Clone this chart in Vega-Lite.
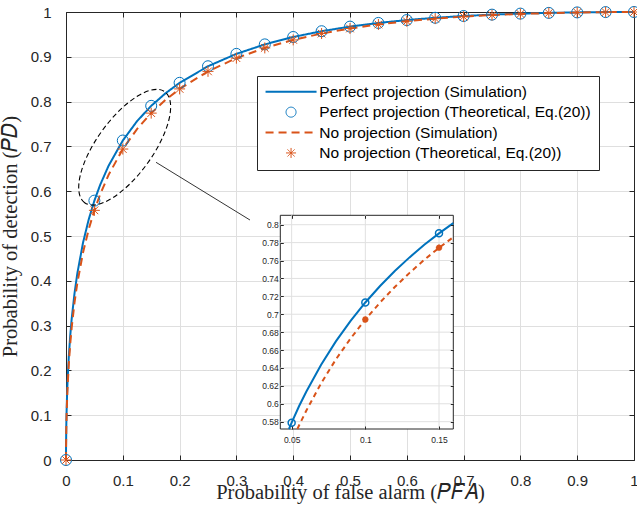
{
  "$schema": "https://vega.github.io/schema/vega-lite/v6.json",
  "width": 568,
  "height": 448,
  "autosize": {"type": "none"},
  "padding": {"left": 66, "top": 12, "right": 3, "bottom": 54},
  "background": "white",
  "config": {
    "view": {"stroke": null},
    "axis": {
      "labelFont": "Liberation Sans", "labelFontSize": 15, "labelColor": "#262626",
      "titleFont": "Liberation Serif", "titleFontSize": 20.5, "titleColor": "#262626", "titleFontWeight": "normal",
      "domainColor": "#262626", "tickColor": "#262626", "gridColor": "#dfdfdf", "gridOpacity": 1,
      "domainWidth": 1, "tickWidth": 1, "labelFlush": false, "labelOverlap": false
    },
    "legend": {
      "padding": 8, "fillColor": "white", "strokeColor": "#262626",
      "symbolSize": 100, "symbolOffset": 18.3, "labelOffset": 20.5,
      "labelFont": "Liberation Sans", "labelFontSize": 15.5, "labelColor": "black",
      "rowPadding": 3.4, "labelLimit": 400, "symbolFillColor": "transparent", "cornerRadius": 0
    }
  },
  "datasets": {
    "sim": [
      {"pfa": 0, "pd": 0, "series": "Perfect projection (Simulation)"},
      {"pfa": 0.0001, "pd": 0.0304, "series": "Perfect projection (Simulation)"},
      {"pfa": 0.0005, "pd": 0.074, "series": "Perfect projection (Simulation)"},
      {"pfa": 0.001, "pd": 0.1064, "series": "Perfect projection (Simulation)"},
      {"pfa": 0.002, "pd": 0.1506, "series": "Perfect projection (Simulation)"},
      {"pfa": 0.003, "pd": 0.183, "series": "Perfect projection (Simulation)"},
      {"pfa": 0.005, "pd": 0.2321, "series": "Perfect projection (Simulation)"},
      {"pfa": 0.0075, "pd": 0.2783, "series": "Perfect projection (Simulation)"},
      {"pfa": 0.01, "pd": 0.3149, "series": "Perfect projection (Simulation)"},
      {"pfa": 0.015, "pd": 0.3722, "series": "Perfect projection (Simulation)"},
      {"pfa": 0.02, "pd": 0.4168, "series": "Perfect projection (Simulation)"},
      {"pfa": 0.03, "pd": 0.4852, "series": "Perfect projection (Simulation)"},
      {"pfa": 0.04, "pd": 0.537, "series": "Perfect projection (Simulation)"},
      {"pfa": 0.05, "pd": 0.5789, "series": "Perfect projection (Simulation)"},
      {"pfa": 0.06, "pd": 0.6137, "series": "Perfect projection (Simulation)"},
      {"pfa": 0.075, "pd": 0.6569, "series": "Perfect projection (Simulation)"},
      {"pfa": 0.1, "pd": 0.7131, "series": "Perfect projection (Simulation)"},
      {"pfa": 0.125, "pd": 0.7562, "series": "Perfect projection (Simulation)"},
      {"pfa": 0.15, "pd": 0.7905, "series": "Perfect projection (Simulation)"},
      {"pfa": 0.175, "pd": 0.8183, "series": "Perfect projection (Simulation)"},
      {"pfa": 0.2, "pd": 0.8419, "series": "Perfect projection (Simulation)"},
      {"pfa": 0.25, "pd": 0.8789, "series": "Perfect projection (Simulation)"},
      {"pfa": 0.3, "pd": 0.9065, "series": "Perfect projection (Simulation)"},
      {"pfa": 0.35, "pd": 0.9277, "series": "Perfect projection (Simulation)"},
      {"pfa": 0.4, "pd": 0.9442, "series": "Perfect projection (Simulation)"},
      {"pfa": 0.45, "pd": 0.9571, "series": "Perfect projection (Simulation)"},
      {"pfa": 0.5, "pd": 0.9674, "series": "Perfect projection (Simulation)"},
      {"pfa": 0.55, "pd": 0.9756, "series": "Perfect projection (Simulation)"},
      {"pfa": 0.6, "pd": 0.982, "series": "Perfect projection (Simulation)"},
      {"pfa": 0.65, "pd": 0.9871, "series": "Perfect projection (Simulation)"},
      {"pfa": 0.7, "pd": 0.9911, "series": "Perfect projection (Simulation)"},
      {"pfa": 0.75, "pd": 0.9941, "series": "Perfect projection (Simulation)"},
      {"pfa": 0.8, "pd": 0.9964, "series": "Perfect projection (Simulation)"},
      {"pfa": 0.85, "pd": 0.998, "series": "Perfect projection (Simulation)"},
      {"pfa": 0.9, "pd": 0.9991, "series": "Perfect projection (Simulation)"},
      {"pfa": 0.95, "pd": 0.9998, "series": "Perfect projection (Simulation)"},
      {"pfa": 1, "pd": 1, "series": "Perfect projection (Simulation)"},
      {"pfa": 0, "pd": 0, "series": "No projection (Simulation)"},
      {"pfa": 0.0001, "pd": 0.0268, "series": "No projection (Simulation)"},
      {"pfa": 0.0005, "pd": 0.0665, "series": "No projection (Simulation)"},
      {"pfa": 0.001, "pd": 0.0966, "series": "No projection (Simulation)"},
      {"pfa": 0.002, "pd": 0.1381, "series": "No projection (Simulation)"},
      {"pfa": 0.003, "pd": 0.1688, "series": "No projection (Simulation)"},
      {"pfa": 0.005, "pd": 0.2157, "series": "No projection (Simulation)"},
      {"pfa": 0.0075, "pd": 0.2601, "series": "No projection (Simulation)"},
      {"pfa": 0.01, "pd": 0.2956, "series": "No projection (Simulation)"},
      {"pfa": 0.015, "pd": 0.3516, "series": "No projection (Simulation)"},
      {"pfa": 0.02, "pd": 0.3955, "series": "No projection (Simulation)"},
      {"pfa": 0.03, "pd": 0.4633, "series": "No projection (Simulation)"},
      {"pfa": 0.04, "pd": 0.5152, "series": "No projection (Simulation)"},
      {"pfa": 0.05, "pd": 0.5573, "series": "No projection (Simulation)"},
      {"pfa": 0.06, "pd": 0.5925, "series": "No projection (Simulation)"},
      {"pfa": 0.075, "pd": 0.6365, "series": "No projection (Simulation)"},
      {"pfa": 0.1, "pd": 0.6941, "series": "No projection (Simulation)"},
      {"pfa": 0.125, "pd": 0.7386, "series": "No projection (Simulation)"},
      {"pfa": 0.15, "pd": 0.7743, "series": "No projection (Simulation)"},
      {"pfa": 0.175, "pd": 0.8035, "series": "No projection (Simulation)"},
      {"pfa": 0.2, "pd": 0.8283, "series": "No projection (Simulation)"},
      {"pfa": 0.25, "pd": 0.8675, "series": "No projection (Simulation)"},
      {"pfa": 0.3, "pd": 0.897, "series": "No projection (Simulation)"},
      {"pfa": 0.35, "pd": 0.9198, "series": "No projection (Simulation)"},
      {"pfa": 0.4, "pd": 0.9377, "series": "No projection (Simulation)"},
      {"pfa": 0.45, "pd": 0.9519, "series": "No projection (Simulation)"},
      {"pfa": 0.5, "pd": 0.9632, "series": "No projection (Simulation)"},
      {"pfa": 0.55, "pd": 0.9722, "series": "No projection (Simulation)"},
      {"pfa": 0.6, "pd": 0.9794, "series": "No projection (Simulation)"},
      {"pfa": 0.65, "pd": 0.9852, "series": "No projection (Simulation)"},
      {"pfa": 0.7, "pd": 0.9897, "series": "No projection (Simulation)"},
      {"pfa": 0.75, "pd": 0.9931, "series": "No projection (Simulation)"},
      {"pfa": 0.8, "pd": 0.9957, "series": "No projection (Simulation)"},
      {"pfa": 0.85, "pd": 0.9976, "series": "No projection (Simulation)"},
      {"pfa": 0.9, "pd": 0.9989, "series": "No projection (Simulation)"},
      {"pfa": 0.95, "pd": 0.9997, "series": "No projection (Simulation)"},
      {"pfa": 1, "pd": 1, "series": "No projection (Simulation)"}
    ],
    "theo": [
      {"pfa": 0, "pd": 0, "series": "Perfect projection (Theoretical, Eq.(20))"},
      {"pfa": 0.05, "pd": 0.5789, "series": "Perfect projection (Theoretical, Eq.(20))"},
      {"pfa": 0.1, "pd": 0.7131, "series": "Perfect projection (Theoretical, Eq.(20))"},
      {"pfa": 0.15, "pd": 0.7905, "series": "Perfect projection (Theoretical, Eq.(20))"},
      {"pfa": 0.2, "pd": 0.8419, "series": "Perfect projection (Theoretical, Eq.(20))"},
      {"pfa": 0.25, "pd": 0.8789, "series": "Perfect projection (Theoretical, Eq.(20))"},
      {"pfa": 0.3, "pd": 0.9065, "series": "Perfect projection (Theoretical, Eq.(20))"},
      {"pfa": 0.35, "pd": 0.9277, "series": "Perfect projection (Theoretical, Eq.(20))"},
      {"pfa": 0.4, "pd": 0.9442, "series": "Perfect projection (Theoretical, Eq.(20))"},
      {"pfa": 0.45, "pd": 0.9571, "series": "Perfect projection (Theoretical, Eq.(20))"},
      {"pfa": 0.5, "pd": 0.9674, "series": "Perfect projection (Theoretical, Eq.(20))"},
      {"pfa": 0.55, "pd": 0.9756, "series": "Perfect projection (Theoretical, Eq.(20))"},
      {"pfa": 0.6, "pd": 0.982, "series": "Perfect projection (Theoretical, Eq.(20))"},
      {"pfa": 0.65, "pd": 0.9871, "series": "Perfect projection (Theoretical, Eq.(20))"},
      {"pfa": 0.7, "pd": 0.9911, "series": "Perfect projection (Theoretical, Eq.(20))"},
      {"pfa": 0.75, "pd": 0.9941, "series": "Perfect projection (Theoretical, Eq.(20))"},
      {"pfa": 0.8, "pd": 0.9964, "series": "Perfect projection (Theoretical, Eq.(20))"},
      {"pfa": 0.85, "pd": 0.998, "series": "Perfect projection (Theoretical, Eq.(20))"},
      {"pfa": 0.9, "pd": 0.9991, "series": "Perfect projection (Theoretical, Eq.(20))"},
      {"pfa": 0.95, "pd": 0.9998, "series": "Perfect projection (Theoretical, Eq.(20))"},
      {"pfa": 1, "pd": 1, "series": "Perfect projection (Theoretical, Eq.(20))"},
      {"pfa": 0, "pd": 0, "series": "No projection (Theoretical, Eq.(20))"},
      {"pfa": 0.05, "pd": 0.5573, "series": "No projection (Theoretical, Eq.(20))"},
      {"pfa": 0.1, "pd": 0.6941, "series": "No projection (Theoretical, Eq.(20))"},
      {"pfa": 0.15, "pd": 0.7743, "series": "No projection (Theoretical, Eq.(20))"},
      {"pfa": 0.2, "pd": 0.8283, "series": "No projection (Theoretical, Eq.(20))"},
      {"pfa": 0.25, "pd": 0.8675, "series": "No projection (Theoretical, Eq.(20))"},
      {"pfa": 0.3, "pd": 0.897, "series": "No projection (Theoretical, Eq.(20))"},
      {"pfa": 0.35, "pd": 0.9198, "series": "No projection (Theoretical, Eq.(20))"},
      {"pfa": 0.4, "pd": 0.9377, "series": "No projection (Theoretical, Eq.(20))"},
      {"pfa": 0.45, "pd": 0.9519, "series": "No projection (Theoretical, Eq.(20))"},
      {"pfa": 0.5, "pd": 0.9632, "series": "No projection (Theoretical, Eq.(20))"},
      {"pfa": 0.55, "pd": 0.9722, "series": "No projection (Theoretical, Eq.(20))"},
      {"pfa": 0.6, "pd": 0.9794, "series": "No projection (Theoretical, Eq.(20))"},
      {"pfa": 0.65, "pd": 0.9852, "series": "No projection (Theoretical, Eq.(20))"},
      {"pfa": 0.7, "pd": 0.9897, "series": "No projection (Theoretical, Eq.(20))"},
      {"pfa": 0.75, "pd": 0.9931, "series": "No projection (Theoretical, Eq.(20))"},
      {"pfa": 0.8, "pd": 0.9957, "series": "No projection (Theoretical, Eq.(20))"},
      {"pfa": 0.85, "pd": 0.9976, "series": "No projection (Theoretical, Eq.(20))"},
      {"pfa": 0.9, "pd": 0.9989, "series": "No projection (Theoretical, Eq.(20))"},
      {"pfa": 0.95, "pd": 0.9997, "series": "No projection (Theoretical, Eq.(20))"},
      {"pfa": 1, "pd": 1, "series": "No projection (Theoretical, Eq.(20))"}
    ],
    "inset_p": [
      {"pfa": 0.0482, "pd": 0.5718}, {"pfa": 0.05, "pd": 0.5789}, {"pfa": 0.055, "pd": 0.5972},
      {"pfa": 0.06, "pd": 0.6137}, {"pfa": 0.07, "pd": 0.6436}, {"pfa": 0.08, "pd": 0.6697},
      {"pfa": 0.09, "pd": 0.6925}, {"pfa": 0.1, "pd": 0.7131}, {"pfa": 0.11, "pd": 0.7315},
      {"pfa": 0.12, "pd": 0.7483}, {"pfa": 0.13, "pd": 0.7635}, {"pfa": 0.14, "pd": 0.7776},
      {"pfa": 0.15, "pd": 0.7903}, {"pfa": 0.1597, "pd": 0.8018}
    ],
    "inset_n": [
      {"pfa": 0.0539, "pd": 0.5718}, {"pfa": 0.055, "pd": 0.5757}, {"pfa": 0.06, "pd": 0.5925},
      {"pfa": 0.07, "pd": 0.6229}, {"pfa": 0.08, "pd": 0.6495}, {"pfa": 0.09, "pd": 0.6729},
      {"pfa": 0.1, "pd": 0.6941}, {"pfa": 0.11, "pd": 0.7131}, {"pfa": 0.12, "pd": 0.7304},
      {"pfa": 0.13, "pd": 0.7462}, {"pfa": 0.14, "pd": 0.7608}, {"pfa": 0.15, "pd": 0.7742},
      {"pfa": 0.1597, "pd": 0.7861}
    ],
    "inset_pt": [
      {"pfa": 0.05, "pd": 0.5789}, {"pfa": 0.1, "pd": 0.7131}, {"pfa": 0.15, "pd": 0.7905}
    ],
    "inset_nt": [
      {"pfa": 0.1, "pd": 0.6941}, {"pfa": 0.15, "pd": 0.7743}
    ],
    "inset_box": [
      {"x0": 0.0423, "x1": 0.1597, "y0": 0.5718, "y1": 0.8105}
    ],
    "inset_xgrid": [{"v": 0.05}, {"v": 0.1}, {"v": 0.15}],
    "inset_ygrid": [{"v": 0.58}, {"v": 0.6}, {"v": 0.62}, {"v": 0.64}, {"v": 0.66}, {"v": 0.68}, {"v": 0.7}, {"v": 0.72}, {"v": 0.74}, {"v": 0.76}, {"v": 0.78}, {"v": 0.8}]
  },
  "layer": [
    {
      "layer": [
        {
          "data": {"name": "sim"},
          "mark": {"type": "line"},
          "encoding": {
            "x": {"field": "pfa", "type": "quantitative",
              "scale": {"domain": [0, 1], "nice": false, "zero": false},
              "axis": {"orient": "bottom", "values": [0, 0.1, 0.2, 0.3, 0.4, 0.5, 0.6, 0.7, 0.8, 0.9, 1], "format": "~g",
                "grid": true, "tickSize": -5, "labelPadding": 18,
                "title": "Probability of false alarm (𝑃𝐹𝐴)", "titleX": 284, "titleY": 38.5, "titleBaseline": "alphabetic"}},
            "y": {"field": "pd", "type": "quantitative",
              "scale": {"domain": [0, 1], "nice": false, "zero": false},
              "axis": {"orient": "left", "values": [0, 0.1, 0.2, 0.3, 0.4, 0.5, 0.6, 0.7, 0.8, 0.9, 1], "format": "~g",
                "grid": true, "tickSize": -5, "labelPadding": 20,
                "title": "Probability of detection (𝑃𝐷)", "titleX": -50, "titleY": 224, "titleAngle": 270, "titleBaseline": "alphabetic"}},
            "color": {"field": "series", "type": "nominal",
              "scale": {"domain": ["Perfect projection (Simulation)", "Perfect projection (Theoretical, Eq.(20))", "No projection (Simulation)", "No projection (Theoretical, Eq.(20))"],
                "range": ["#0072BD", "#0072BD", "#D95319", "#D95319"]},
              "legend": {"title": null, "orient": "none", "legendX": 191, "legendY": 64}},
            "strokeDash": {"field": "series", "type": "nominal",
              "scale": {"domain": ["Perfect projection (Simulation)", "Perfect projection (Theoretical, Eq.(20))", "No projection (Simulation)", "No projection (Theoretical, Eq.(20))"],
                "range": [[1, 0], [1, 0], [8, 5], [1, 0]]},
              "legend": {"title": null, "orient": "none", "legendX": 191, "legendY": 64}},
            "strokeWidth": {"field": "series", "type": "nominal",
              "scale": {"type": "ordinal", "domain": ["Perfect projection (Simulation)", "Perfect projection (Theoretical, Eq.(20))", "No projection (Simulation)", "No projection (Theoretical, Eq.(20))"],
                "range": [2, 1, 2, 1]},
              "legend": {"title": null, "orient": "none", "legendX": 191, "legendY": 64}}
          }
        },
        {
          "data": {"name": "theo"},
          "mark": {"type": "point", "filled": false, "opacity": 1, "size": 121},
          "encoding": {
            "x": {"field": "pfa", "type": "quantitative", "axis": null},
            "y": {"field": "pd", "type": "quantitative", "axis": null},
            "color": {"field": "series", "type": "nominal",
              "scale": {"domain": ["Perfect projection (Simulation)", "Perfect projection (Theoretical, Eq.(20))", "No projection (Simulation)", "No projection (Theoretical, Eq.(20))"],
                "range": ["#0072BD", "#0072BD", "#D95319", "#D95319"]},
              "legend": {"title": null, "orient": "none", "legendX": 191, "legendY": 64}},
            "shape": {"field": "series", "type": "nominal",
              "scale": {"domain": ["Perfect projection (Simulation)", "Perfect projection (Theoretical, Eq.(20))", "No projection (Simulation)", "No projection (Theoretical, Eq.(20))"],
                "range": ["M-5.1,0L5.1,0", "circle", "M-5.1,0L5.1,0", "M-1,0L1,0M0,-1L0,1M-0.7,-0.7L0.7,0.7M-0.7,0.7L0.7,-0.7"]},
              "legend": {"title": null, "orient": "none", "legendX": 191, "legendY": 64}},
            "strokeWidth": {"field": "series", "type": "nominal",
              "scale": {"type": "ordinal", "domain": ["Perfect projection (Simulation)", "Perfect projection (Theoretical, Eq.(20))", "No projection (Simulation)", "No projection (Theoretical, Eq.(20))"],
                "range": [2, 1, 2, 1]},
              "legend": {"title": null, "orient": "none", "legendX": 191, "legendY": 64}}
          }
        },
        {
          "data": {"values": [{"cx": 0.1033, "cy": 0.6982}]},
          "mark": {"type": "point", "shape": "M-1,0C-1,-0.2253,-0.5523,-0.408,0,-0.408C0.5523,-0.408,1,-0.2253,1,0C1,0.2253,0.5523,0.408,0,0.408C-0.5523,0.408,-1,0.2253,-1,0Z",
            "size": 18714, "angle": 305.8, "filled": false, "stroke": "black", "strokeWidth": 1.1, "strokeDash": [5, 3], "opacity": 1},
          "encoding": {
            "x": {"field": "cx", "type": "quantitative", "axis": null},
            "y": {"field": "cy", "type": "quantitative", "axis": null}
          }
        },
        {
          "data": {"values": [{"x1": 0.1585, "y1": 0.6645, "x2": 0.3239, "y2": 0.5357}]},
          "mark": {"type": "rule", "color": "black", "strokeWidth": 0.8},
          "encoding": {
            "x": {"field": "x1", "type": "quantitative", "axis": null},
            "y": {"field": "y1", "type": "quantitative", "axis": null},
            "x2": {"field": "x2"},
            "y2": {"field": "y2"}
          }
        },
        {
          "data": {"name": "theo"},
          "mark": {"type": "point", "opacity": 0},
          "encoding": {
            "x": {"field": "pfa", "type": "quantitative",
              "axis": {"orient": "top", "values": [0, 0.1, 0.2, 0.3, 0.4, 0.5, 0.6, 0.7, 0.8, 0.9, 1], "labels": false, "grid": false, "tickSize": -5, "title": null}},
            "y": {"field": "pd", "type": "quantitative",
              "axis": {"orient": "right", "values": [0, 0.1, 0.2, 0.3, 0.4, 0.5, 0.6, 0.7, 0.8, 0.9, 1], "labels": false, "grid": false, "tickSize": -5, "title": null}}
          }
        }
      ],
      "resolve": {"axis": {"x": "independent", "y": "independent"}}
    },
    {
      "layer": [
        {
          "data": {"name": "inset_box"},
          "mark": {"type": "rect", "fill": "white", "stroke": "#262626", "strokeWidth": 1},
          "encoding": {
            "x": {"field": "x0", "type": "quantitative",
              "scale": {"domain": [0.0423, 0.1597], "range": [214.3, 387.3], "nice": false, "zero": false},
              "axis": {"orient": "bottom", "offset": -31, "values": [0.05, 0.1, 0.15], "format": "~g", "grid": false, "domain": false,
                "tickSize": -3, "labelPadding": 9, "labelFontSize": 8.5, "title": null, "zindex": 1}},
            "x2": {"field": "x1"},
            "y": {"field": "y0", "type": "quantitative",
              "scale": {"domain": [0.5718, 0.8105], "range": [417, 203.3], "nice": false, "zero": false},
              "axis": {"orient": "left", "offset": -214.3, "values": [0.58, 0.6, 0.62, 0.64, 0.66, 0.68, 0.7, 0.72, 0.74, 0.76, 0.78, 0.8], "format": "~g", "grid": false, "domain": false,
                "tickSize": -3, "labelPadding": 5, "labelFontSize": 8.5, "title": null, "zindex": 1}},
            "y2": {"field": "y1"}
          }
        },
        {
          "data": {"name": "inset_xgrid"},
          "mark": {"type": "rule", "color": "#e0e0e0", "strokeWidth": 1},
          "encoding": {
            "x": {"field": "v", "type": "quantitative",
              "scale": {"domain": [0.0423, 0.1597], "range": [214.3, 387.3], "nice": false, "zero": false}, "axis": null},
            "y": {"datum": 0.5718, "type": "quantitative",
              "scale": {"domain": [0.5718, 0.8105], "range": [417, 203.3], "nice": false, "zero": false}, "axis": null},
            "y2": {"datum": 0.8105}
          }
        },
        {
          "data": {"name": "inset_ygrid"},
          "mark": {"type": "rule", "color": "#e0e0e0", "strokeWidth": 1},
          "encoding": {
            "y": {"field": "v", "type": "quantitative",
              "scale": {"domain": [0.5718, 0.8105], "range": [417, 203.3], "nice": false, "zero": false}, "axis": null},
            "x": {"datum": 0.0423, "type": "quantitative",
              "scale": {"domain": [0.0423, 0.1597], "range": [214.3, 387.3], "nice": false, "zero": false}, "axis": null},
            "x2": {"datum": 0.1597}
          }
        },
        {
          "data": {"name": "inset_p"},
          "mark": {"type": "line", "color": "#0072BD", "strokeWidth": 2},
          "encoding": {
            "x": {"field": "pfa", "type": "quantitative",
              "scale": {"domain": [0.0423, 0.1597], "range": [214.3, 387.3], "nice": false, "zero": false}, "axis": null},
            "y": {"field": "pd", "type": "quantitative",
              "scale": {"domain": [0.5718, 0.8105], "range": [417, 203.3], "nice": false, "zero": false}, "axis": null}
          }
        },
        {
          "data": {"name": "inset_n"},
          "mark": {"type": "line", "color": "#D95319", "strokeWidth": 2, "strokeDash": [5, 4]},
          "encoding": {
            "x": {"field": "pfa", "type": "quantitative",
              "scale": {"domain": [0.0423, 0.1597], "range": [214.3, 387.3], "nice": false, "zero": false}, "axis": null},
            "y": {"field": "pd", "type": "quantitative",
              "scale": {"domain": [0.5718, 0.8105], "range": [417, 203.3], "nice": false, "zero": false}, "axis": null}
          }
        },
        {
          "data": {"name": "inset_pt"},
          "mark": {"type": "point", "shape": "circle", "filled": false, "size": 49, "color": "#0072BD", "strokeWidth": 1.5, "opacity": 1},
          "encoding": {
            "x": {"field": "pfa", "type": "quantitative",
              "scale": {"domain": [0.0423, 0.1597], "range": [214.3, 387.3], "nice": false, "zero": false}, "axis": null},
            "y": {"field": "pd", "type": "quantitative",
              "scale": {"domain": [0.5718, 0.8105], "range": [417, 203.3], "nice": false, "zero": false}, "axis": null}
          }
        },
        {
          "data": {"name": "inset_nt"},
          "mark": {"type": "point", "shape": "M-1,0L1,0M0,-1L0,1M-0.7,-0.7L0.7,0.7M-0.7,0.7L0.7,-0.7", "filled": false, "size": 40, "color": "#D95319", "strokeWidth": 2, "opacity": 1},
          "encoding": {
            "x": {"field": "pfa", "type": "quantitative",
              "scale": {"domain": [0.0423, 0.1597], "range": [214.3, 387.3], "nice": false, "zero": false}, "axis": null},
            "y": {"field": "pd", "type": "quantitative",
              "scale": {"domain": [0.5718, 0.8105], "range": [417, 203.3], "nice": false, "zero": false}, "axis": null}
          }
        },
        {
          "data": {"name": "inset_pt"},
          "mark": {"type": "point", "opacity": 0},
          "encoding": {
            "x": {"field": "pfa", "type": "quantitative",
              "scale": {"domain": [0.0423, 0.1597], "range": [214.3, 387.3], "nice": false, "zero": false},
              "axis": {"orient": "top", "offset": -203.3, "values": [0.05, 0.1, 0.15], "grid": false, "labels": false, "domain": false, "tickSize": -3, "title": null, "zindex": 1}},
            "y": {"field": "pd", "type": "quantitative",
              "scale": {"domain": [0.5718, 0.8105], "range": [417, 203.3], "nice": false, "zero": false},
              "axis": {"orient": "right", "offset": -180.7, "values": [0.58, 0.6, 0.62, 0.64, 0.66, 0.68, 0.7, 0.72, 0.74, 0.76, 0.78, 0.8], "grid": false, "labels": false, "domain": false, "tickSize": -3, "title": null, "zindex": 1}}
          }
        }
      ],
      "resolve": {"axis": {"x": "independent", "y": "independent"}}
    }
  ],
  "resolve": {"scale": {"x": "independent", "y": "independent"}}
}
